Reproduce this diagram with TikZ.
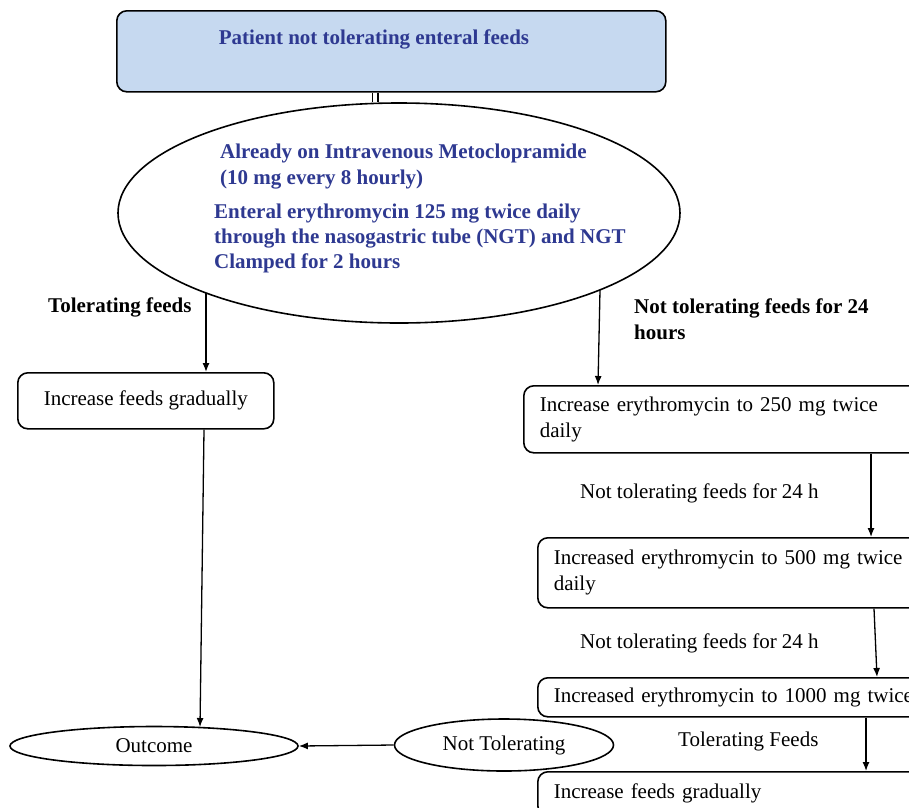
\documentclass[tikz,border=0pt]{standalone}
\usepackage{fontspec}
\setmainfont{Liberation Serif}
\usetikzlibrary{shapes.geometric,arrows.meta}
\definecolor{tblue}{RGB}{46,57,145}
\definecolor{bfill}{RGB}{198,217,240}
\begin{document}
\begin{tikzpicture}[x=1pt,y=-1pt,
  font=\fontsize{21}{26}\selectfont,
  box/.style={draw, line width=1.6pt, rounded corners=10pt, inner sep=0pt},
  rbox/.style={box, anchor=north west, text width=420pt, inner xsep=16pt, align=left},
  oval/.style={ellipse, draw, line width=1.6pt, inner sep=0pt},
  arr/.style={line width=1.3pt, -{Latex[length=9pt,width=7pt]}},
  lbl/.style={anchor=west, inner sep=0pt, align=left},
  btxt/.style={lbl, text=tblue, font=\fontsize{21}{26}\selectfont\bfseries}]
\useasboundingbox (0,0) rectangle (909,807);
\clip (0,0) rectangle (909,807);

% top box
\node[box, fill=bfill, minimum width=549pt, minimum height=81pt, anchor=north west] (top) at (116,10) {};
\node[btxt, anchor=center] (toptxt) at (374,39) {Patient not tolerating enteral feeds};

% big ellipse
\node[oval, minimum width=562pt, minimum height=220pt] (ell) at (399,213) {};
\node[btxt] (e1) at (220,166.5) {Already on Intravenous Metoclopramide\\(10 mg every 8 hourly)};
\node[btxt, font=\fontsize{21}{25}\selectfont\bfseries] (e2) at (214,238) {Enteral erythromycin 125 mg twice daily\\through the nasogastric tube (NGT) and NGT\\Clamped for 2 hours};

\coordinate (dl) at (375,0);
\draw[line width=1.5pt, double, double distance=4pt] (top.south -| dl) -- (ell.north -| dl);

% left branch
\node[lbl, font=\fontsize{21}{26}\selectfont\bfseries] (tol) at (48,307) {Tolerating feeds};
\node[box, minimum width=256pt, minimum height=56pt, anchor=north west] (lb) at (17,372) {Increase feeds gradually};
\coordinate (p1) at (206,293);
\draw[arr] (p1) -- (p1 |- lb.north);

% bottom ellipses
\node[oval, minimum width=288pt, minimum height=39pt] (oc) at (154,746) {Outcome};
\node[oval, minimum width=219pt, minimum height=52pt] (nt) at (504,745) {Not Tolerating};
\coordinate (p2) at (204,0);
\coordinate (p3) at (200,727);
\draw[arr] (lb.south -| p2) -- (p3);
\draw[arr] (nt.west) -- (oc.east);

% right branch
\node[lbl, font=\fontsize{21}{26}\selectfont\bfseries] (ntol) at (634,319.5) {Not tolerating feeds for 24\\hours};
\node[rbox, minimum height=67pt] (r1) at (523,385) {Increase erythromycin to 250 mg twice\\daily};
\coordinate (p4) at (600,290);
\coordinate (p5) at (598,0);
\draw[arr] (p4) -- (r1.north -| p5);

\node[rbox, minimum height=70pt] (r2) at (537,537) {Increased erythromycin to 500 mg twice\\daily};
\coordinate (p6) at (871,0);
\draw[arr] (r1.south -| p6) -- (r2.north -| p6);
\node[lbl] (l1) at (580,493) {Not tolerating feeds for 24 h};

\node[rbox, minimum height=39pt] (r3) at (537,677) {Increased erythromycin to 1000 mg twice};
\coordinate (p7) at (874,0);
\coordinate (p8) at (877,0);
\draw[arr] (r2.south -| p7) -- (r3.north -| p8);
\node[lbl] (l2) at (580,643) {Not tolerating feeds for 24 h};

\node[rbox, minimum height=44pt] (r4) at (537,771) {Increase feeds gradually};
\coordinate (p9) at (866,0);
\draw[arr] (r3.south -| p9) -- (r4.north -| p9);
\node[lbl] (l3) at (678,741) {Tolerating Feeds};
\end{tikzpicture}
\end{document}
